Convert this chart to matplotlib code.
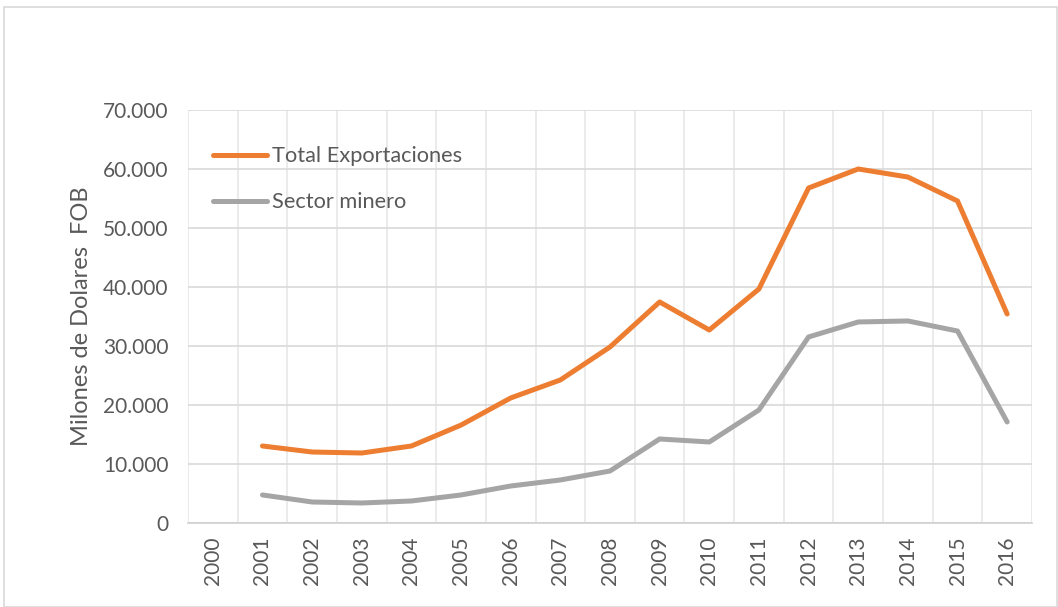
import matplotlib.pyplot as plt
import numpy as np
from matplotlib.patches import Rectangle
from matplotlib.ticker import FuncFormatter

plt.rcParams['font.family'] = ['Lato', 'DejaVu Sans']

years = [str(y) for y in range(2000, 2017)]
total_export = [None, 13050, 12030, 11860, 13050, 16600, 21190, 24240, 29830,
                37460, 32710, 39660, 56780, 60000, 58640, 54580, 35420]
sector_minero = [None, 4750, 3560, 3390, 3730, 4750, 6270, 7290, 8810,
                 14240, 13730, 19150, 31530, 34070, 34240, 32540, 17120]

fig = plt.figure(figsize=(10.58, 6.07), dpi=100)
ax = fig.add_axes([0.1777, 0.1384, 0.7977, 0.6804])

x = np.arange(len(years))
tot = np.array([np.nan if v is None else v for v in total_export], dtype=float)
mine = np.array([np.nan if v is None else v for v in sector_minero], dtype=float)

ax.plot(x, tot, color='#ED7D31', lw=3.6, solid_capstyle='round', solid_joinstyle='round',
        label='Total Exportaciones')
ax.plot(x, mine, color='#A5A5A5', lw=3.6, solid_capstyle='round', solid_joinstyle='round',
        label='Sector minero')

ax.set_xlim(-0.5, len(years) - 0.5)
ax.set_ylim(0, 70000)
ax.set_yticks(np.arange(0, 70001, 10000))
ax.yaxis.set_major_formatter(FuncFormatter(lambda v, p: f'{int(v):,}'.replace(',', '.')))
ax.set_xticks(x)
ax.set_xticklabels(years, rotation=90)
ax.set_xticks(np.arange(-0.5, len(years), 1), minor=True)

ax.grid(axis='y', color='#D9D9D9', lw=1.2)
ax.grid(axis='x', which='minor', color='#E8E8E8', lw=1.2)
ax.set_axisbelow(True)
for s in ['top', 'right', 'left']:
    ax.spines[s].set_visible(False)
ax.spines['bottom'].set_color('#D0D0D0')
ax.spines['bottom'].set_linewidth(1.2)
ax.tick_params(axis='both', which='both', length=0, colors='#595959', labelsize=15)
ax.tick_params(axis='y', pad=14)
ax.tick_params(axis='x', pad=10)

ax.set_ylabel('Milones de Dolares  FOB', fontsize=17, color='#595959', labelpad=8)

ax.legend(loc='upper left', bbox_to_anchor=(0.006, 0.96), frameon=False, fontsize=15.7,
          handlelength=2.5, handletextpad=0.2, labelspacing=1.2, labelcolor='#595959')

fig.patches.append(Rectangle((0.004, 0.0), 0.995, 0.988, transform=fig.transFigure,
                             fill=False, edgecolor='#D9D9D9', lw=1.2))

fig.savefig('out.png', dpi=100)
